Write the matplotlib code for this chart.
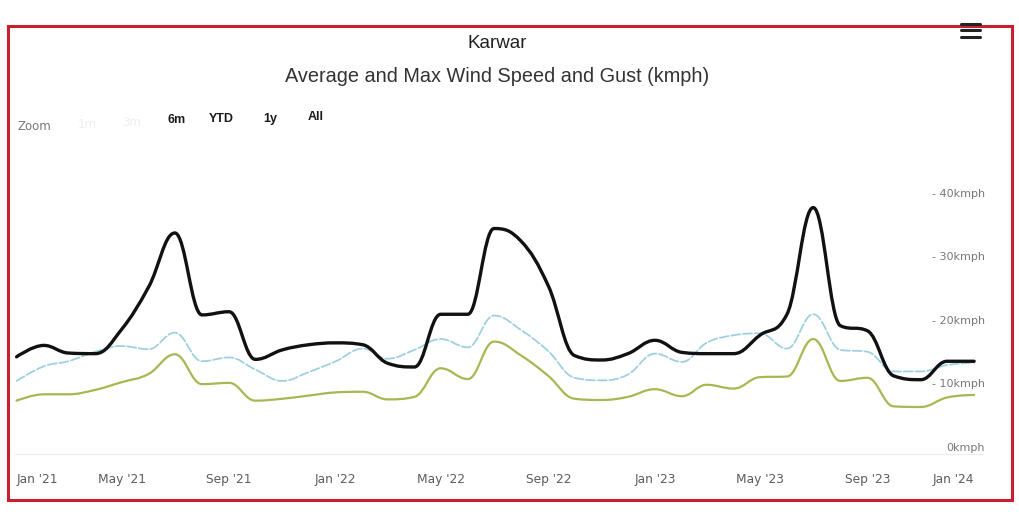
import pandas as pd
import matplotlib
matplotlib.use("Agg")
import matplotlib.pyplot as plt
import matplotlib.dates as mdates
from matplotlib.path import Path
from matplotlib.patches import PathPatch, Rectangle
from matplotlib.lines import Line2D

# monthly values (kmph)
months = pd.date_range("2021-01-01", "2024-01-01", freq="MS")
gust = [14.3, 16.1, 14.9, 14.8, 18.6, 25.3, 33.8, 20.9, 21.4, 13.9, 15.4, 16.2,
        16.5, 16.2, 13.3, 12.7, 21.0, 21.0, 34.5, 32.5, 25.5, 14.5, 13.8, 14.8,
        16.9, 15.0, 14.8, 14.8, 17.7, 21.0, 37.8, 19.2, 18.4, 11.3, 10.7, 13.6, 13.6]
max_wind = [10.5, 12.8, 13.6, 15.1, 16.0, 15.5, 18.1, 13.6, 14.2, 12.3, 10.5, 11.9,
            13.6, 15.6, 14.0, 15.4, 17.1, 15.8, 20.8, 18.5, 15.2, 11.0, 10.6, 11.5,
            14.8, 13.5, 16.5, 17.7, 18.0, 15.6, 21.0, 15.4, 15.1, 12.0, 12.0, 13.0, 13.4]
avg_wind = [7.4, 8.4, 8.4, 9.1, 10.3, 11.6, 14.7, 10.0, 10.2, 7.4, 7.7, 8.2,
            8.7, 8.8, 7.6, 8.0, 12.5, 10.8, 16.7, 14.5, 11.3, 7.7, 7.5, 8.0,
            9.2, 8.1, 9.9, 9.3, 11.1, 11.2, 17.1, 10.5, 11.0, 6.5, 6.4, 7.9, 8.3]
y_ticks = [0, 10, 20, 30, 40]
x_ticks = pd.date_range("2021-01-01", "2024-01-01", freq="4MS")
buttons = ["6m", "YTD", "1y", "All"]


def spline_path(xs, ys, smoothing=1.5):
    # same control points as a highcharts "spline" series
    denom = smoothing + 1
    n = len(xs)
    lc = [None] * n
    rc = [None] * n
    for i in range(1, n - 1):
        px, py = xs[i], ys[i]
        lx, ly = xs[i - 1], ys[i - 1]
        nx, ny = xs[i + 1], ys[i + 1]
        lcx = (smoothing * px + lx) / denom
        lcy = (smoothing * py + ly) / denom
        rcx = (smoothing * px + nx) / denom
        rcy = (smoothing * py + ny) / denom
        corr = (rcy - lcy) * (rcx - px) / (rcx - lcx) + py - rcy
        lcy += corr
        rcy += corr
        if lcy > ly and lcy > py:
            lcy = max(ly, py); rcy = 2 * py - lcy
        elif lcy < ly and lcy < py:
            lcy = min(ly, py); rcy = 2 * py - lcy
        if rcy > ny and rcy > py:
            rcy = max(ny, py); lcy = 2 * py - rcy
        elif rcy < ny and rcy < py:
            rcy = min(ny, py); lcy = 2 * py - rcy
        lc[i] = (lcx, lcy)
        rc[i] = (rcx, rcy)
    verts = [(xs[0], ys[0])]
    codes = [Path.MOVETO]
    for i in range(1, n):
        c1 = rc[i - 1] or (xs[i - 1], ys[i - 1])
        c2 = lc[i] or (xs[i], ys[i])
        verts += [c1, c2, (xs[i], ys[i])]
        codes += [Path.CURVE4] * 3
    return Path(verts, codes)


W, H = 1019, 518
fig = plt.figure(figsize=(W / 100, H / 100), dpi=100)
fig.patch.set_facecolor("white")
ax = fig.add_axes([15 / W, 64 / H, 967 / W, 260.4 / H])

xs = mdates.date2num(months)
for vals, color, lw, ls in [(avg_wind, "#a8b752", 1.6, "-"),
                            (max_wind, "#9fd0e0", 1.3, (0, (5, 1.5))),
                            (gust, "#111111", 2.4, "-")]:
    ax.add_patch(PathPatch(spline_path(list(xs), vals), facecolor="none",
                           edgecolor=color, lw=lw, linestyle=ls,
                           capstyle="round", joinstyle="round"))

ax.set_xlim(xs[0] - 1.8, xs[-1] + 9)
ax.set_ylim(-1, 40)
ax.set_xticks(mdates.date2num(x_ticks))
ax.set_xticklabels([d.strftime("%b '%y") for d in x_ticks])
ax.tick_params(axis="x", length=0, pad=14, labelsize=8.8, labelcolor="#5c5c5c")
labs = ax.get_xticklabels()
labs[0].set_horizontalalignment("left")
labs[-1].set_horizontalalignment("right")
ax.set_yticks([])
for s in ["top", "left", "right"]:
    ax.spines[s].set_visible(False)
ax.spines["bottom"].set_color("#ececec")

for v in y_ticks:
    lbl = f"{v}kmph" if v == 0 else f"- {v}kmph"
    ax.text(1.003, v, lbl, transform=ax.get_yaxis_transform(), ha="right",
            va="center", fontsize=8, color="#777777")

fig.text(497 / W, 1 - 44 / H, "Karwar", ha="center", va="center",
         fontsize=13.5, family="Liberation Sans", color="#222222")
fig.text(497 / W, 1 - 76 / H, "Average and Max Wind Speed and Gust (kmph)",
         ha="center", va="center", fontsize=14.3, family="Liberation Sans",
         color="#333333")

fig.text(18 / W, 1 - 126 / H, "Zoom", ha="left", va="center", fontsize=8.5,
         color="#777777")
fig.text(78 / W, 1 - 124 / H, "1m", ha="left", va="center", fontsize=8.5,
         color="#eeeeee")
fig.text(122 / W, 1 - 123 / H, "3m", ha="left", va="center", fontsize=8.5,
         color="#eeeeee")
for label, bx, by in zip(buttons, [167, 209, 263, 308], [120, 119, 119, 117]):
    fig.text(bx / W, 1 - by / H, label, ha="left", va="center", fontsize=9,
             color="#1a1a1a", family="Liberation Sans", fontweight="bold")

for yy in [23.5, 30, 36.5]:
    fig.add_artist(Line2D([961 / W, 980 / W], [1 - yy / H, 1 - yy / H],
                          color="#222222", lw=2.2, solid_capstyle="round"))

fig.add_artist(Rectangle((8 / W, 1 - 500 / H), 1004 / W, 474 / H,
                         fill=False, edgecolor="#c8202c", lw=2.2))

fig.savefig("out.png", dpi=100)
